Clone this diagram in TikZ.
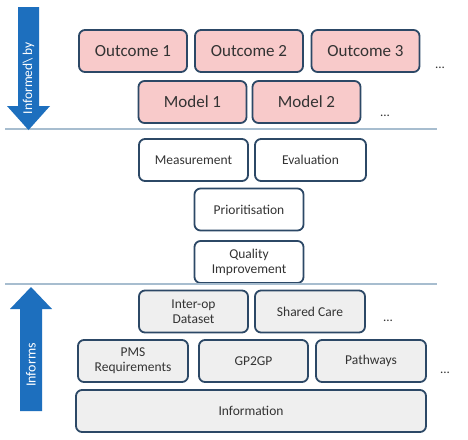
\documentclass[tikz,border=0pt]{standalone}
\usepackage{fontspec}
\setmainfont{Carlito}
\definecolor{boxline}{HTML}{2C4866}
\definecolor{pinkfill}{HTML}{F8CACA}
\definecolor{grayfill}{HTML}{EFEFEF}
\definecolor{arrowblue}{HTML}{1D6FBE}
\definecolor{sepline}{HTML}{A7BDCF}
\definecolor{txt}{HTML}{333333}
\begin{document}
\begin{tikzpicture}[x=1pt,y=-1pt,
  blk/.style={draw=boxline,line width=1.8pt,rounded corners=6pt,minimum height=42pt,text=txt,align=center,inner sep=1pt},
  big/.style={blk,fill=pinkfill,minimum width=108pt,font=\fontsize{17}{19}\selectfont},
  mid/.style={blk,fill=white,minimum width=109pt,font=\fontsize{13.5}{15}\selectfont},
  low/.style={blk,fill=grayfill,minimum width=109pt,font=\fontsize{13.5}{15}\selectfont},
  dots/.style={text=txt,font=\fontsize{13}{15}\selectfont,inner sep=0pt}]
  \useasboundingbox (0,0) rectangle (468,439);
                    \fill[white] (0,0) rectangle (468,439);
                    % upper band
                    \node[big] (out1) at (133,51) {Outcome 1};
                    \node[big] (out2) at (249,51) {Outcome 2};
                    \node[big] (out3) at (365.5,51) {Outcome 3};
                    \node[dots] (dotsA) at (440,68) {...};
                    \node[big] (mod1) at (192.5,102) {Model 1};
                    \node[big] (mod2) at (306.5,102) {Model 2};
                    \node[dots] (dotsB) at (385,116) {...};
                    \coordinate (s1l) at (5,129);\coordinate (s1r) at (437,129);
                    \draw[sepline,line width=1.3pt] (s1l) -- (s1r);
                    % middle band
                    \node[mid] (meas) at (193.5,160) {Measurement};
                    \node[mid,minimum width=111pt] (eval) at (310.5,160) {Evaluation};
                    \node[mid] (prio) at (249,209.5) {Prioritisation};
                    \node[mid] (qual) at (249,262) {Quality\\Improvement};
                    \coordinate (s2l) at (5,284);\coordinate (s2r) at (437,284);
                    \draw[sepline,line width=1.3pt] (s2l) -- (s2r);
                    % lower band
                    \node[low] (inter) at (193.5,311.5) {Inter-op\\Dataset};
                    \node[low,minimum width=110pt] (shared) at (310,311.5) {Shared Care};
                    \node[dots] (dotsC) at (388,321) {...};
                    \node[low,minimum width=110pt] (pms) at (133,361) {PMS\\Requirements};
                    \node[low] (gp) at (253.5,361) {GP2GP};
                    \node[low,minimum width=110pt] (path) at (371,361) {Pathways};
                    \node[dots] (dotsD) at (445,373) {...};
                    \node[low,minimum width=350pt] (info) at (251,411) {Information};
                    % side arrows
                    \fill[arrowblue] (18,7) -- (39,7) -- (39,106) -- (50,106) -- (28.5,130) -- (7,106) -- (18,106) -- cycle;
                    \node[rotate=90,text=white,font=\fontsize{13.5}{15}\selectfont] (infby) at (28.5,78) {Informed\textbackslash\ by};
                    \fill[arrowblue] (20,411) -- (42,411) -- (42,309) -- (52,309) -- (31,287) -- (10,309) -- (20,309) -- cycle;
                    \node[rotate=90,text=white,font=\fontsize{14}{16}\selectfont] (infs) at (31,365) {Informs};
                  \end{tikzpicture}
\end{document}
